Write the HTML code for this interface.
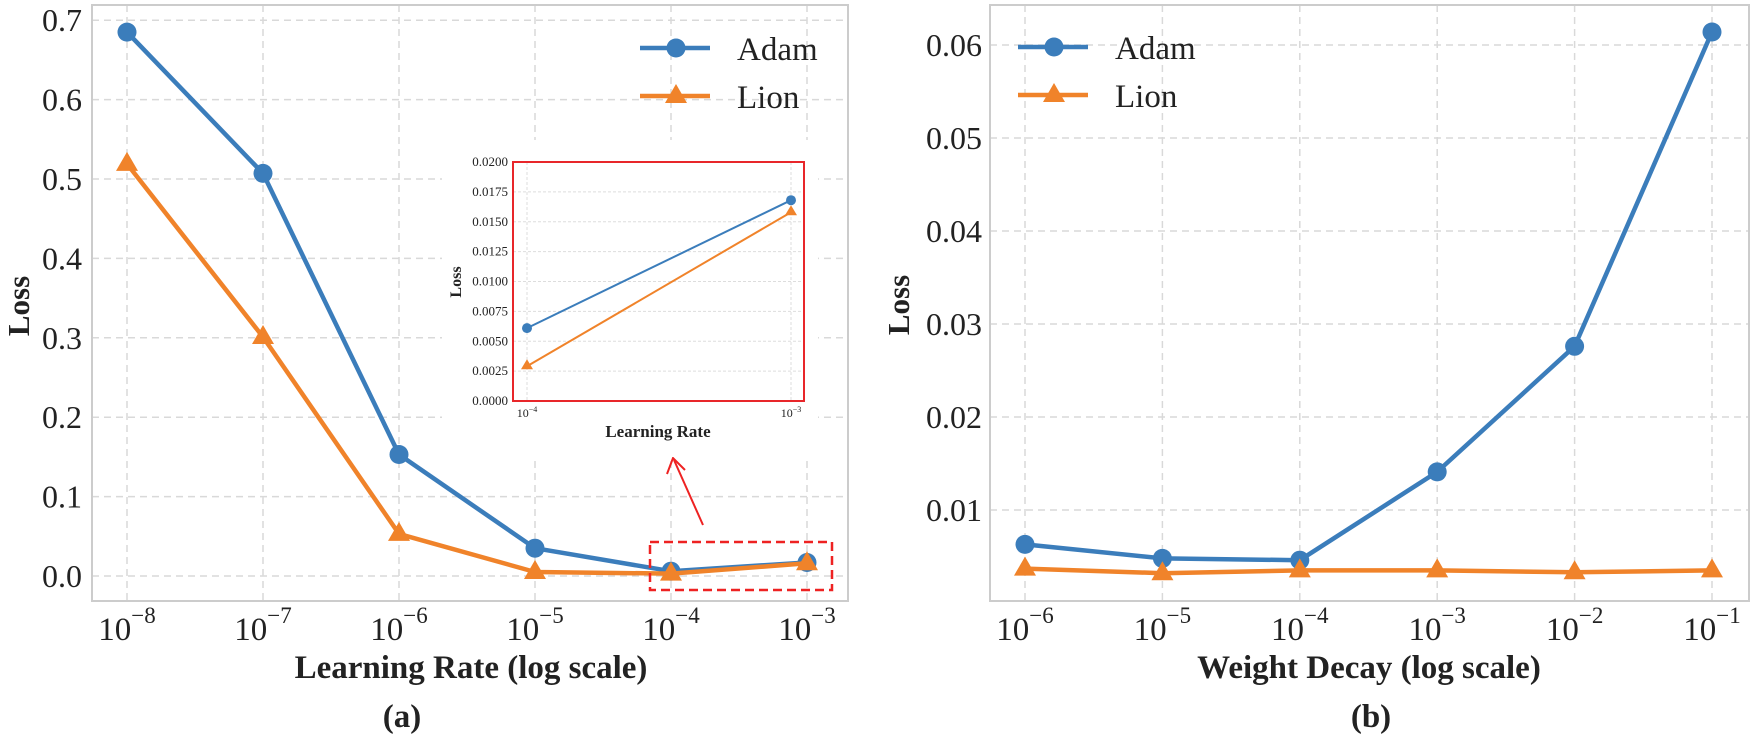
<!DOCTYPE html>
<html><head><meta charset="utf-8"><style>
body{margin:0;background:#fff}
svg{display:block}
text{font-family:"Liberation Serif",serif;fill:#222}
</style></head><body>
<svg width="1753" height="737" viewBox="0 0 1753 737" xmlns="http://www.w3.org/2000/svg">
<rect width="1753" height="737" fill="#fff"/>
<!-- LEFT PANEL -->
<g stroke="#d9d9d9" stroke-width="1.5" stroke-dasharray="7,5" fill="none">
<line x1="92" x2="848" y1="576" y2="576"/><line x1="92" x2="848" y1="496.6" y2="496.6"/>
<line x1="92" x2="848" y1="417.2" y2="417.2"/><line x1="92" x2="848" y1="337.8" y2="337.8"/>
<line x1="92" x2="848" y1="258.4" y2="258.4"/><line x1="92" x2="848" y1="179" y2="179"/>
<line x1="92" x2="848" y1="99.6" y2="99.6"/><line x1="92" x2="848" y1="20.2" y2="20.2"/>
<line x1="127" x2="127" y1="5" y2="601"/><line x1="263" x2="263" y1="5" y2="601"/>
<line x1="399" x2="399" y1="5" y2="601"/><line x1="535" x2="535" y1="5" y2="601"/>
<line x1="671" x2="671" y1="5" y2="601"/><line x1="807" x2="807" y1="5" y2="601"/>
</g>
<rect x="92" y="5" width="756" height="596" fill="none" stroke="#cccccc" stroke-width="2"/>
<g font-size="32" text-anchor="end">
<text x="82" y="587">0.0</text><text x="82" y="507.6">0.1</text><text x="82" y="428.2">0.2</text>
<text x="82" y="348.8">0.3</text><text x="82" y="269.4">0.4</text><text x="82" y="190">0.5</text>
<text x="82" y="110.6">0.6</text><text x="82" y="31.2">0.7</text>
</g>
<g font-size="33" text-anchor="middle">
<text x="127" y="640">10<tspan font-size="23" dy="-17">−8</tspan></text>
<text x="263" y="640">10<tspan font-size="23" dy="-17">−7</tspan></text>
<text x="399" y="640">10<tspan font-size="23" dy="-17">−6</tspan></text>
<text x="535" y="640">10<tspan font-size="23" dy="-17">−5</tspan></text>
<text x="671" y="640">10<tspan font-size="23" dy="-17">−4</tspan></text>
<text x="807" y="640">10<tspan font-size="23" dy="-17">−3</tspan></text>
</g>
<text x="471" y="678" font-size="33" font-weight="bold" text-anchor="middle">Learning Rate (log scale)</text>
<text x="402" y="727" font-size="33" font-weight="bold" text-anchor="middle">(a)</text>
<text transform="translate(29,306) rotate(-90)" font-size="31" font-weight="bold" text-anchor="middle">Loss</text>
<polyline points="127,32.1 263,173.4 399,454.5 535,548.2 671,571.2 807,562.5" fill="none" stroke="#3b7dbb" stroke-width="4.5" stroke-linejoin="round"/>
<g fill="#3b7dbb"><circle cx="127" cy="32.1" r="9.5"/><circle cx="263" cy="173.4" r="9.5"/><circle cx="399" cy="454.5" r="9.5"/><circle cx="535" cy="548.2" r="9.5"/><circle cx="671" cy="571.2" r="9.5"/><circle cx="807" cy="562.5" r="9.5"/></g>
<polyline points="127,163.9 263,337 399,533.9 535,572 671,573.6 807,563.3" fill="none" stroke="#f0832a" stroke-width="4.5" stroke-linejoin="round"/>
<g fill="#f0832a">
<polygon points="127,151.9 116,170.9 138,170.9"/><polygon points="263,325 252,344 274,344"/>
<polygon points="399,521.9 388,540.9 410,540.9"/><polygon points="535,560 524,579 546,579"/>
<polygon points="671,561.6 660,580.6 682,580.6"/><polygon points="807,551.3 796,570.3 818,570.3"/>
</g>
<rect x="650" y="542" width="182" height="48" fill="none" stroke="#ee2222" stroke-width="2.5" stroke-dasharray="9,5"/>
<line x1="703" y1="525" x2="674" y2="460" stroke="#ee2222" stroke-width="2"/>
<polyline points="667,474 673,458 685,470" fill="none" stroke="#ee2222" stroke-width="2"/>
<!-- legend left -->
<line x1="640" x2="710" y1="48" y2="48" stroke="#3b7dbb" stroke-width="4.5"/><circle cx="676" cy="48" r="9.5" fill="#3b7dbb"/>
<line x1="640" x2="710" y1="96" y2="96" stroke="#f0832a" stroke-width="4.5"/><polygon points="676,84 665,103 687,103" fill="#f0832a"/>
<text x="737" y="60" font-size="33">Adam</text><text x="737" y="108" font-size="33">Lion</text>
<!-- inset -->
<rect x="442" y="140" width="376" height="317" fill="#fff"/>
<g stroke="#dddddd" stroke-width="1" stroke-dasharray="3,2">
<line x1="513" x2="804" y1="371.1" y2="371.1"/><line x1="513" x2="804" y1="341.3" y2="341.3"/>
<line x1="513" x2="804" y1="311.4" y2="311.4"/><line x1="513" x2="804" y1="281.5" y2="281.5"/>
<line x1="513" x2="804" y1="251.6" y2="251.6"/><line x1="513" x2="804" y1="221.8" y2="221.8"/>
<line x1="513" x2="804" y1="191.9" y2="191.9"/>
<line x1="527" x2="527" y1="162" y2="401"/><line x1="791" x2="791" y1="162" y2="401"/>
</g>
<rect x="513" y="162" width="291" height="239" fill="none" stroke="#e8262a" stroke-width="2"/>
<g font-size="13" text-anchor="end">
<text x="508" y="405">0.0000</text><text x="508" y="375.1">0.0025</text><text x="508" y="345.3">0.0050</text>
<text x="508" y="315.4">0.0075</text><text x="508" y="285.5">0.0100</text><text x="508" y="255.6">0.0125</text>
<text x="508" y="225.8">0.0150</text><text x="508" y="195.9">0.0175</text><text x="508" y="166">0.0200</text>
</g>
<g font-size="12" text-anchor="middle">
<text x="527" y="417">10<tspan font-size="8" dy="-5">−4</tspan></text>
<text x="791" y="417">10<tspan font-size="8" dy="-5">−3</tspan></text>
</g>
<text x="658" y="437" font-size="17" font-weight="bold" text-anchor="middle">Learning Rate</text>
<text transform="translate(461,282) rotate(-90)" font-size="16" font-weight="bold" text-anchor="middle">Loss</text>
<line x1="527" y1="328.1" x2="791" y2="200.2" stroke="#3b7dbb" stroke-width="2"/>
<line x1="527" y1="366.3" x2="791" y2="212.2" stroke="#f0832a" stroke-width="2"/>
<circle cx="527" cy="328.1" r="5" fill="#3b7dbb"/><circle cx="791" cy="200.2" r="5" fill="#3b7dbb"/>
<polygon points="527,359.3 521,369.3 533,369.3" fill="#f0832a"/><polygon points="791,205.2 785,215.2 797,215.2" fill="#f0832a"/>

<!-- RIGHT PANEL -->
<g stroke="#d9d9d9" stroke-width="1.5" stroke-dasharray="7,5" fill="none">
<line x1="990" x2="1749" y1="510" y2="510"/><line x1="990" x2="1749" y1="417" y2="417"/>
<line x1="990" x2="1749" y1="324" y2="324"/><line x1="990" x2="1749" y1="231" y2="231"/>
<line x1="990" x2="1749" y1="138" y2="138"/><line x1="990" x2="1749" y1="45" y2="45"/>
<line x1="1025" x2="1025" y1="5" y2="601"/><line x1="1162.4" x2="1162.4" y1="5" y2="601"/>
<line x1="1299.8" x2="1299.8" y1="5" y2="601"/><line x1="1437.2" x2="1437.2" y1="5" y2="601"/>
<line x1="1574.6" x2="1574.6" y1="5" y2="601"/><line x1="1712" x2="1712" y1="5" y2="601"/>
</g>
<rect x="990" y="5" width="759" height="596" fill="none" stroke="#cccccc" stroke-width="2"/>
<g font-size="32" text-anchor="end">
<text x="982" y="521">0.01</text><text x="982" y="428">0.02</text><text x="982" y="335">0.03</text>
<text x="982" y="242">0.04</text><text x="982" y="149">0.05</text><text x="982" y="56">0.06</text>
</g>
<g font-size="33" text-anchor="middle">
<text x="1025" y="640">10<tspan font-size="23" dy="-17">−6</tspan></text>
<text x="1162.4" y="640">10<tspan font-size="23" dy="-17">−5</tspan></text>
<text x="1299.8" y="640">10<tspan font-size="23" dy="-17">−4</tspan></text>
<text x="1437.2" y="640">10<tspan font-size="23" dy="-17">−3</tspan></text>
<text x="1574.6" y="640">10<tspan font-size="23" dy="-17">−2</tspan></text>
<text x="1712" y="640">10<tspan font-size="23" dy="-17">−1</tspan></text>
</g>
<text x="1369" y="678" font-size="33" font-weight="bold" text-anchor="middle">Weight Decay (log scale)</text>
<text x="1371" y="727" font-size="33" font-weight="bold" text-anchor="middle">(b)</text>
<text transform="translate(909,305) rotate(-90)" font-size="31" font-weight="bold" text-anchor="middle">Loss</text>
<polyline points="1025,544.4 1162.4,558.4 1299.8,560.2 1437.2,471.9 1574.6,346.3 1712,32" fill="none" stroke="#3b7dbb" stroke-width="4.5" stroke-linejoin="round"/>
<g fill="#3b7dbb"><circle cx="1025" cy="544.4" r="9.5"/><circle cx="1162.4" cy="558.4" r="9.5"/><circle cx="1299.8" cy="560.2" r="9.5"/><circle cx="1437.2" cy="471.9" r="9.5"/><circle cx="1574.6" cy="346.3" r="9.5"/><circle cx="1712" cy="32" r="9.5"/></g>
<polyline points="1025,568.6 1162.4,573.2 1299.8,570.4 1437.2,570.4 1574.6,572.3 1712,570.4" fill="none" stroke="#f0832a" stroke-width="4.5" stroke-linejoin="round"/>
<g fill="#f0832a">
<polygon points="1025,556.6 1014,575.6 1036,575.6"/><polygon points="1162.4,561.2 1151.4,580.2 1173.4,580.2"/>
<polygon points="1299.8,558.4 1288.8,577.4 1310.8,577.4"/><polygon points="1437.2,558.4 1426.2,577.4 1448.2,577.4"/>
<polygon points="1574.6,560.3 1563.6,579.3 1585.6,579.3"/><polygon points="1712,558.4 1701,577.4 1723,577.4"/>
</g>
<line x1="1018" x2="1088" y1="47" y2="47" stroke="#3b7dbb" stroke-width="4.5"/><circle cx="1054" cy="47" r="9.5" fill="#3b7dbb"/>
<line x1="1018" x2="1088" y1="95" y2="95" stroke="#f0832a" stroke-width="4.5"/><polygon points="1054,83 1043,102 1065,102" fill="#f0832a"/>
<text x="1115" y="59" font-size="33">Adam</text><text x="1115" y="107" font-size="33">Lion</text>
</svg>
</body></html>
